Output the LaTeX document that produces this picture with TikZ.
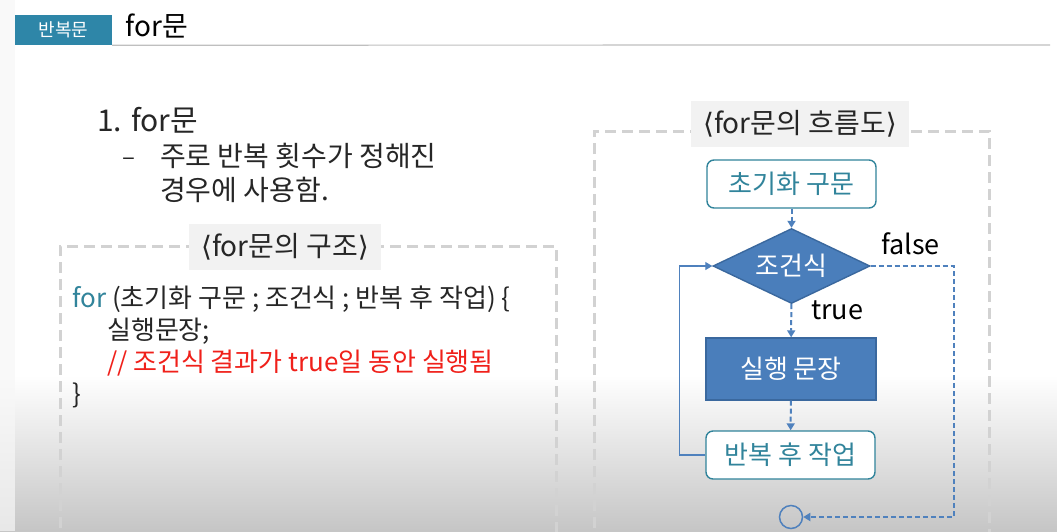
\documentclass[tikz,border=0pt]{standalone}
\usepackage{fontspec}
\setmainfont{Noto Sans CJK KR}
\newfontfamily\symfont{DejaVu Sans}
\usetikzlibrary{positioning,arrows.meta,shapes.geometric,calc}
\definecolor{ink}{HTML}{262626}
\definecolor{tealc}{HTML}{31849B}
\definecolor{hdrc}{HTML}{2E86A8}
\definecolor{boxc}{HTML}{4A7EBB}
\definecolor{boxd}{HTML}{3A689E}
\definecolor{flowc}{HTML}{4F81BD}
\definecolor{redc}{HTML}{F0201A}
\newcommand{\fs}[1]{\fontsize{#1}{#1}\selectfont}
\newcommand{\lang}{{\symfont ⟨}}
\newcommand{\rang}{{\symfont ⟩}}

\begin{document}
\begin{tikzpicture}[x=1pt, y=-1pt, text=ink, >={Triangle[length=7pt,width=8pt]},
  frame/.style={draw=gray!35, line width=3pt, dash pattern=on 11pt off 6pt},
  caption/.style={fill=gray!10, inner xsep=12pt, inner ysep=0pt, minimum height=46pt, font=\fs{28}},
  code/.style={anchor=base west, inner sep=0pt, font=\fs{26}},
  rbox/.style={draw=tealc, line width=1.4pt, rounded corners=7pt, fill=white, text=tealc,
               minimum width=169pt, minimum height=48pt, font=\fs{26}},
  sbox/.style={draw=boxd, line width=1.4pt, fill=boxc, text=white,
               minimum width=170pt, minimum height=62pt, font=\fs{26}},
  dflow/.style={->, draw=flowc, line width=2pt, dash pattern=on 5pt off 3pt},
  lflow/.style={->, draw=flowc, line width=1.2pt}]
\useasboundingbox (0,0) rectangle (1057,531);
\clip (0,0) rectangle (1057,531);
% -- background
\fill[white] (0,0) rectangle (1057,531);
\shade[top color=white, bottom color=gray!45] (0,375) rectangle (1057,531);
\fill[gray!6, opacity=.7] (0,0) rectangle (15,531);
% -- header
\node[fill=hdrc, text=white, minimum width=97pt, minimum height=30pt, inner sep=0pt,
  font=\fs{18}] (tag) at (63.5,30) {반복문};
\node[anchor=west, font=\fs{28}, text=black] (title) at (122,26) {for문};
\draw[gray!50, line width=1.2pt] (tag.south east) -- (1050,45);
% -- intro
\node[anchor=base west, inner sep=0pt, font=\fs{30}] (item) at (97,131) {1. for문};
\node[anchor=base west, inner sep=0pt, font=\fs{24}] (dash) at (122,165) {--};
\node[anchor=base west, inner sep=0pt, font=\fs{28}] (desc1) at (160,166) {주로 반복 횟수가 정해진};
\node[anchor=base west, inner sep=0pt, font=\fs{28}] (desc2) at (160,200) {경우에 사용함.};
% -- structure panel
\draw[frame] (60,545) -- (60,246) -- (556,246) -- (556,545);
\node[caption] (scap) at (285,247) {\lang for문의 구조\rang};
\node[code] (c1) at (72,307) {\textcolor{tealc}{for} (초기화 구문 ; 조건식 ; 반복 후 작업) \{};
\node[code] (c2) at (107,339) {실행문장;};
\node[code, text=redc] (c3) at (107,371) {// 조건식 결과가 true일 동안 실행됨};
\node[code] (c4) at (72,403) {\}};
% -- flow panel
\draw[frame] (594,545) -- (594,131) -- (989,131) -- (989,545);
\node[caption] (fcap) at (800,124) {\lang for문의 흐름도\rang};
\node[rbox] (init) at (791.5,184) {초기화 구문};
\node[diamond, aspect=2.1, draw=boxd, line width=1.4pt, fill=boxc, text=white, inner sep=0pt,
  minimum width=157pt, minimum height=75pt, font=\fs{26}] (cond) at (791.5,266) {조건식};
\node[sbox] (body) at (791,369) {실행 문장};
\node[rbox] (post) at (790.5,455) {반복 후 작업};
\node[circle, draw=flowc, line width=1.5pt, minimum size=23pt, inner sep=0pt] (done) at (791,517) {};
\draw[dflow] (init) -- (cond);
\draw[dflow] (cond) -- (body);
\draw[dflow] (body) -- (post);
\draw[lflow] (post.west) -- ++(-26,0) |- (cond.west);
\draw[dflow] (cond.east) -- ++(83,0) |- (done.east);
\node[anchor=base west, inner sep=0pt, font=\fs{27}, text=black] (lfalse) at (881,254) {false};
\node[anchor=base west, inner sep=0pt, font=\fs{27}, text=black] (ltrue) at (811,319) {true};
\end{tikzpicture}
\end{document}
